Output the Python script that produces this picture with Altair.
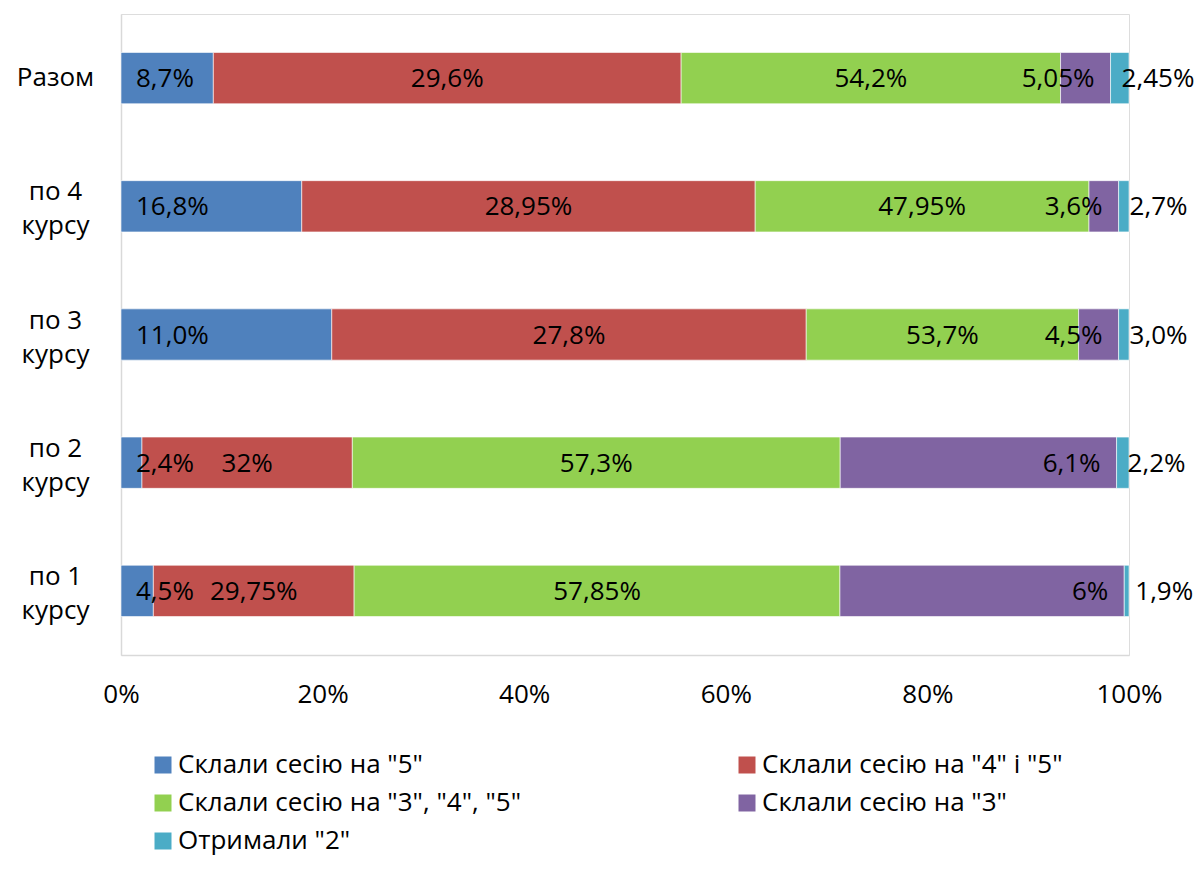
import altair as alt
import pandas as pd

categories = ["Разом", "по 4\nкурсу", "по 3\nкурсу", "по 2\nкурсу", "по 1\nкурсу"]
series = ['Склали сесію на "5"', 'Склали сесію на "4" і "5"',
          'Склали сесію на "3", "4", "5"', 'Склали сесію на "3"', 'Отримали "2"']
colors = ["#4F81BD", "#C0504D", "#92D050", "#8064A2", "#4BACC6"]

# segment widths as drawn (percent of each bar)
v5 = [9.16, 17.93, 20.91, 2.08, 3.21]
v45 = [46.41, 44.98, 47.07, 20.87, 19.92]
v345 = [37.64, 33.11, 27.02, 48.40, 48.20]
v3 = [4.96, 2.94, 3.97, 27.42, 28.21]
v2 = [1.83, 1.03, 1.03, 1.23, 0.47]

# data label texts as shown
l5 = ["8,7%", "16,8%", "11,0%", "2,4%", "4,5%"]
l45 = ["29,6%", "28,95%", "27,8%", "32%", "29,75%"]
l345 = ["54,2%", "47,95%", "53,7%", "57,3%", "57,85%"]
l3 = ["5,05%", "3,6%", "4,5%", "6,1%", "6%"]
l2 = ["2,45%", "2,7%", "3,0%", "2,2%", "1,9%"]

values = [v5, v45, v345, v3, v2]
labels = [l5, l45, l345, l3, l2]
pos = ["base", "center", "center", "end", "outer"]

rows = []
for si, s in enumerate(series):
    for ci, c in enumerate(categories):
        rows.append({"category": c, "series": s, "order": si,
                     "value": values[si][ci], "label": labels[si][ci], "pos": pos[si]})
df = pd.DataFrame(rows)

FONT = "Open Sans"
FS = 26

base = alt.Chart(df).transform_stack(
    stack="value", as_=["x0", "x1"], groupby=["category"],
    sort=[alt.SortField("order")], offset="normalize"
).transform_calculate(xm="(datum.x0 + datum.x1) / 2")

yenc = alt.Y("category:N", sort=categories, title=None,
             scale=alt.Scale(paddingInner=0.6, paddingOuter=0.3),
             axis=alt.Axis(labelExpr="split(datum.label, '\\n')", labelAlign="center",
                           labelBaseline="middle", labelPadding=66, labelLineHeight=34,
                           labelOffset={"condition": {"test": "indexof(datum.label, 'курсу') >= 0",
                                                      "value": -14}, "value": 0},
                           ticks=False, tickSize=0, domainColor="#D9D9D9", domainWidth=1.5,
                           labelFont=FONT, labelFontSize=FS, labelColor="#000000",
                           labelLimit=0))

bars = base.mark_bar(stroke="white", strokeWidth=0.6).encode(
    y=yenc,
    x=alt.X("x0:Q", scale=alt.Scale(domain=[0, 1]), title=None,
            axis=alt.Axis(values=[0, 0.2, 0.4, 0.6, 0.8, 1.0], format=".0%", grid=False,
                          ticks=False, tickSize=0, domainColor="#D9D9D9", domainWidth=1.5,
                          labelPadding=26, labelFont=FONT, labelFontSize=FS,
                          labelColor="#000000", labelFlush=False)),
    x2="x1:Q",
    color=alt.Color("series:N", scale=alt.Scale(domain=series, range=colors),
                    legend=alt.Legend(orient="none", direction="horizontal",
                                      legendX=29, legendY=738, columns=2,
                                      columnPadding=212, rowPadding=12, symbolType="square",
                                      symbolSize=289, symbolStrokeWidth=0, labelFont=FONT,
                                      labelFontSize=FS, labelColor="#000000", labelLimit=0,
                                      labelOffset=2, title=None, padding=0)),
)

txt_base = base.transform_filter("datum.pos == 'base'").mark_text(
    align="left", baseline="middle", dx=15, dy=1, font=FONT, fontSize=FS, color="black"
).encode(y=alt.Y("category:N", sort=categories), x="x0:Q", text="label:N")

txt_outer = base.transform_filter("datum.pos == 'outer'").mark_text(
    align="left", baseline="middle", dx=11, dy=1, font=FONT, fontSize=FS, color="black"
).encode(y=alt.Y("category:N", sort=categories), x="x0:Q", text="label:N")

txt_center = base.transform_filter("datum.pos == 'center'").mark_text(
    align="center", baseline="middle", dy=1, font=FONT, fontSize=FS, color="black"
).encode(y=alt.Y("category:N", sort=categories), x="xm:Q", text="label:N")

txt_end = base.transform_filter("datum.pos == 'end'").mark_text(
    align="right", baseline="middle", dx=-16, dy=1, font=FONT, fontSize=FS, color="black"
).encode(y=alt.Y("category:N", sort=categories), x="x1:Q", text="label:N")

chart = alt.layer(bars, txt_base, txt_outer, txt_center, txt_end).properties(
    width=1008, height=641,
    autosize=alt.AutoSizeParams(type="none"),
    padding={"left": 113, "top": 6, "right": 65, "bottom": 203},
).configure_view(stroke=None).configure(background="white")

chart.save("out.html", embed_options={"renderer": "svg", "actions": False})
